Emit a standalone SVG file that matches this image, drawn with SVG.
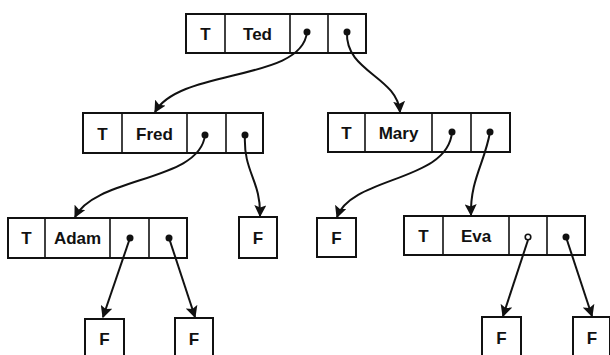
<svg xmlns="http://www.w3.org/2000/svg" width="610" height="355" viewBox="0 0 610 355">
<style>
.box{fill:#fff;stroke:#111;stroke-width:2}
.div{stroke:#111;stroke-width:1.6}
.t{font-family:"Liberation Sans",Arial,sans-serif;font-size:17px;font-weight:bold;fill:#111;text-anchor:middle}
.dot{fill:#111}
.edge{fill:none;stroke:#111;stroke-width:2}
</style>
<defs>
<marker id="ah" viewBox="0 0 10 10" refX="9" refY="5" markerWidth="6" markerHeight="6" markerUnits="strokeWidth" orient="auto">
<path d="M0,0 L10,5 L0,10 L2,5 z" fill="#111"/>
</marker>
</defs>
<rect width="610" height="355" fill="#fff"/>
<g id="ted">
<rect class="box" x="186" y="14" width="180" height="39"/>
<line class="div" x1="225" y1="14" x2="225" y2="53"/>
<line class="div" x1="290" y1="14" x2="290" y2="53"/>
<line class="div" x1="328" y1="14" x2="328" y2="53"/>
<text class="t" x="205.5" y="40">T</text>
<text class="t" x="257.5" y="40">Ted</text>
<circle class="dot" cx="307" cy="32" r="3.5"/>
<circle class="dot" cx="347" cy="32" r="3.5"/>
</g>
<g id="fred">
<rect class="box" x="83" y="113" width="180" height="40"/>
<line class="div" x1="122" y1="113" x2="122" y2="153"/>
<line class="div" x1="187" y1="113" x2="187" y2="153"/>
<line class="div" x1="226" y1="113" x2="226" y2="153"/>
<text class="t" x="102.5" y="140">T</text>
<text class="t" x="154.5" y="140">Fred</text>
<circle class="dot" cx="205" cy="135" r="3.5"/>
<circle class="dot" cx="245" cy="135" r="3.5"/>
</g>
<g id="mary">
<rect class="box" x="328" y="113" width="182" height="39"/>
<line class="div" x1="365" y1="113" x2="365" y2="152"/>
<line class="div" x1="432" y1="113" x2="432" y2="152"/>
<line class="div" x1="471" y1="113" x2="471" y2="152"/>
<text class="t" x="346.5" y="139">T</text>
<text class="t" x="398.5" y="139">Mary</text>
<circle class="dot" cx="452" cy="132" r="3.5"/>
<circle class="dot" cx="490" cy="132" r="3.5"/>
</g>
<g id="adam">
<rect class="box" x="8" y="218" width="179" height="40"/>
<line class="div" x1="45" y1="218" x2="45" y2="258"/>
<line class="div" x1="110" y1="218" x2="110" y2="258"/>
<line class="div" x1="149" y1="218" x2="149" y2="258"/>
<text class="t" x="26.5" y="244">T</text>
<text class="t" x="77.5" y="244">Adam</text>
<circle class="dot" cx="130" cy="238" r="3.5"/>
<circle class="dot" cx="169" cy="238" r="3.5"/>
</g>
<g id="eva">
<rect class="box" x="404" y="216" width="181" height="39"/>
<line class="div" x1="443" y1="216" x2="443" y2="255"/>
<line class="div" x1="509" y1="216" x2="509" y2="255"/>
<line class="div" x1="547" y1="216" x2="547" y2="255"/>
<text class="t" x="423.5" y="242">T</text>
<text class="t" x="476" y="242">Eva</text>
<circle cx="528" cy="237" r="2.8" fill="#fff" stroke="#111" stroke-width="1.6"/>
<circle class="dot" cx="566" cy="237" r="3.5"/>
</g>
<g id="fred-right-leaf">
<rect class="box" x="239" y="217" width="38" height="41"/>
<text class="t" x="258" y="244">F</text>
</g>
<g id="mary-left-leaf">
<rect class="box" x="317" y="218" width="39" height="39"/>
<text class="t" x="336.5" y="244">F</text>
</g>
<g id="adam-left-leaf">
<rect class="box" x="85" y="319" width="39" height="40"/>
<text class="t" x="104.5" y="345">F</text>
</g>
<g id="adam-right-leaf">
<rect class="box" x="175" y="318" width="38" height="41"/>
<text class="t" x="194" y="345">F</text>
</g>
<g id="eva-left-leaf">
<rect class="box" x="482" y="317" width="39" height="42"/>
<text class="t" x="501.5" y="344">F</text>
</g>
<g id="eva-right-leaf">
<rect class="box" x="573" y="317" width="37" height="42"/>
<text class="t" x="592" y="344">F</text>
</g>
<g id="connectors">
<path class="edge" marker-end="url(#ah)" d="M307,32 C302,82 180,68 155,112"/>
<path class="edge" marker-end="url(#ah)" d="M347,32 C345,72 397,76 400,112"/>
<path class="edge" marker-end="url(#ah)" d="M205,135 C200,182 96,176 75,217"/>
<path class="edge" marker-end="url(#ah)" d="M245,135 C243,172 261,180 260,216"/>
<path class="edge" marker-end="url(#ah)" d="M452,132 C448,182 352,176 337,217"/>
<path class="edge" marker-end="url(#ah)" d="M490,132 C485,162 470,180 471,215"/>
<path class="edge" marker-end="url(#ah)" d="M130,238 L103,317"/>
<path class="edge" marker-end="url(#ah)" d="M169,238 L195,317"/>
<path class="edge" marker-end="url(#ah)" d="M528,240 L503,316"/>
<path class="edge" marker-end="url(#ah)" d="M566,237 L592,316"/>
</g>
</svg>
